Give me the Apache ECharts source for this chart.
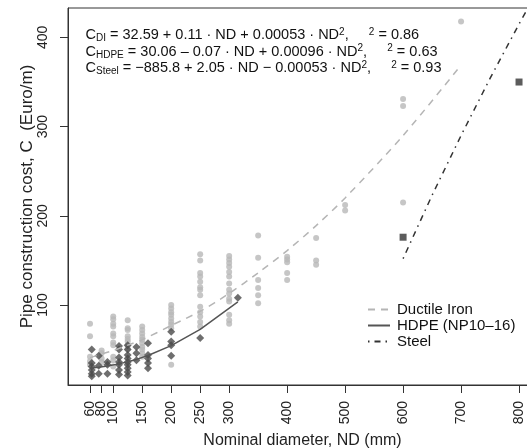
<!DOCTYPE html>
<html>
<head>
<meta charset="utf-8">
<title>Pipe construction cost</title>
<script src="https://cdn.jsdelivr.net/npm/echarts@6/dist/echarts.min.js"></script>
<style>
  html, body { margin:0; padding:0; background:#fff; }
  #main { width:527px; height:448px; }
</style>
</head>
<body>
<div id="main"></div>
<script>
// tick positions (nominal diameter) and y ticks
var xTicks = [60, 80, 100, 150, 200, 250, 300, 400, 500, 600, 700, 800];
// labels that sit too close to their neighbours go on a second, bare axis
var xTicksCrowded = [80];
var yTicks = [100, 200, 300, 400];

// Ductile iron observations [ND, cost]
var diPoints = [
    [60,79],[60,65],[60,42],[60,37],[60,33],
    [80,49],[80,46],[80,40],[80,36],
    [100,87],[100,84],[100,79],[100,76],[100,68],[100,65],[100,58],[100,55],[100,42],[100,38],[100,31],
    [125,83],[125,74],[125,72],[125,65],[125,62],[125,59],[125,55],[125,51],
    [150,76],[150,72],[150,68],[150,64],[150,61],[150,57],[150,53],[150,50],[150,46],[150,42],
    [200,100],[200,96],[200,92],[200,89],[200,85],[200,81],[200,78],[200,74],[200,33],
    [250,157],[250,150],[250,136],[250,132],[250,126],[250,120],[250,117],[250,111],[250,98],[250,92],[250,87],[250,81],[250,76],
    [300,155],[300,151],[300,147],[300,143],[300,137],[300,132],[300,124],[300,117],[300,113],[300,107],[300,104],[300,89],[300,83],[300,79],
    [350,178],[350,153],[350,128],[350,119],[350,111],[350,102],
    [400,154],[400,151],[400,148],[400,136],[400,128],
    [450,175],[450,150],[450,145],
    [500,212],[500,206],
    [600,331],[600,323],[600,215],
    [700,418]
];

// HDPE observations [ND, cost]
var hdpePoints = [
    [63,50],[63,35],[63,31],[63,27],[63,23],[63,20],
    [75,43],[75,32],[75,23],
    [90,36],[90,33],[90,23],
    [110,54],[110,50],[110,41],[110,36],[110,33],[110,27],[110,22],
    [125,55],[125,50],[125,44],[125,40],[125,36],[125,33],[125,29],[125,25],[125,21],
    [140,53],[140,46],[140,38],
    [160,57],[160,44],[160,40],[160,35],[160,29],
    [200,70],[200,59],[200,55],[200,43],
    [250,63],
    [315,108]
];

// Steel observations
var steelPoints = [[600,176],[800,350]];

// fitted curves
var diFitND   = [60, 80, 100, 125, 150, 200, 250, 300, 350, 400, 450, 500, 600, 700];
var diFitC    = [41, 45, 49, 55, 61, 77, 93, 113, 136, 161, 189, 220, 290, 369];
var hdpeFitND = [63, 75, 90, 110, 125, 140, 160, 200, 250, 315];
var hdpeFitC  = [29.4, 30.2, 31.5, 34, 36.3, 39, 43.4, 54.5, 72.6, 103.5];
var steelFitND = [600, 650, 700, 750, 800, 850];
var steelFitC  = [152, 223, 290, 354, 415, 473];

function pairs(xs, ys) {
    return xs.map(function (x, i) { return [x, ys[i]]; });
}

var FONT = '"Liberation Sans", Arial, Helvetica, sans-serif';
var chart = echarts.init(document.getElementById('main'), null, {renderer: 'canvas'});

var xLabelStyle = {rotate: 90, margin: 16, hideOverlap: false, showMinLabel: true,
                   fontFamily: FONT, fontSize: 14, color: '#222'};

var option = {
    animation: false,
    backgroundColor: '#fff',
    grid: {
        left: 68, top: 8, right: -10, bottom: 63,
        outerBoundsMode: 'none', containLabel: false,
        show: true, borderColor: '#333', borderWidth: 1, backgroundColor: 'transparent'
    },
    xAxis: [{
        type: 'value', min: 22, max: 831,
        name: 'Nominal diameter, ND (mm)', nameLocation: 'middle', nameGap: 48,
        nameMoveOverlap: false,
        nameTextStyle: {fontFamily: FONT, fontSize: 16, color: '#222'},
        axisLine: {show: true, lineStyle: {color: '#333'}},
        axisTick: {show: true, length: 8, customValues: xTicks, lineStyle: {color: '#333'}},
        axisLabel: Object.assign({customValues: xTicks.filter(function (v) {
            return xTicksCrowded.indexOf(v) < 0;
        })}, xLabelStyle),
        splitLine: {show: false}
    }, {
        type: 'value', min: 22, max: 831, position: 'bottom',
        axisLine: {show: false}, axisTick: {show: false}, splitLine: {show: false},
        axisLabel: Object.assign({customValues: xTicksCrowded}, xLabelStyle)
    }],
    yAxis: {
        type: 'value', min: 10.3, max: 433,
        name: 'Pipe construction cost, C  (Euro/m)', nameLocation: 'middle', nameGap: 32,
        nameMoveOverlap: false,
        nameTextStyle: {fontFamily: FONT, fontSize: 17, color: '#222'},
        axisLine: {show: true, lineStyle: {color: '#333'}},
        axisTick: {show: true, length: 8, customValues: yTicks, lineStyle: {color: '#333'}},
        axisLabel: {customValues: yTicks, rotate: 90, margin: 18, fontFamily: FONT, fontSize: 14, color: '#222'},
        splitLine: {show: false}
    },
    legend: {
        data: ['Ductile Iron', 'HDPE (NP10\u201316)', 'Steel'],
        orient: 'vertical', left: 367, top: 302, padding: 0,
        itemWidth: 22, itemHeight: 12, itemGap: 1,
        itemStyle: {opacity: 0},
        textStyle: {fontFamily: FONT, fontSize: 15, color: '#111', padding: [0, 0, 0, 2]}
    },
    graphic: [{
        type: 'text', left: 'center', top: 27,
        style: {
            x: 0, y: 0,
            text: 'C{s|DI} = 32.59 + 0.11 \u00b7 ND + 0.00053 \u00b7 ND{p|2},     {p|2} = 0.86\n' +
                  'C{s|HDPE} = 30.06 \u2013 0.07 \u00b7 ND + 0.00096 \u00b7 ND{p|2},     {p|2} = 0.63\n' +
                  'C{s|Steel} = \u2212885.8 + 2.05 \u00b7 ND \u2212 0.00053 \u00b7 ND{p|2},     {p|2} = 0.93',
            font: '14.5px ' + FONT, fill: '#111', align: 'center', lineHeight: 16.5,
            rich: {
                s: {fontSize: 10, fontFamily: FONT, verticalAlign: 'bottom', padding: [6, 0, 0, 0], lineHeight: 16.5},
                p: {fontSize: 10, fontFamily: FONT, verticalAlign: 'top', padding: [0, 0, 6, 0], lineHeight: 16.5}
            }
        }
    }],
    series: [
        {
            type: 'scatter', name: 'diObs', data: diPoints, symbol: 'circle', symbolSize: 6,
            itemStyle: {color: '#b8b8b8'}, z: 2
        },
        {
            type: 'scatter', name: 'hdpeObs', data: hdpePoints, symbol: 'diamond', symbolSize: 8,
            itemStyle: {color: '#4a4a4a'}, z: 3
        },
        {
            type: 'scatter', name: 'steelObs', data: steelPoints, symbol: 'rect', symbolSize: 7,
            itemStyle: {color: '#333'}, z: 3
        },
        {
            type: 'line', name: 'Ductile Iron', data: pairs(diFitND, diFitC), smooth: 0.3,
            symbol: 'none', itemStyle: {color: '#b5b5b5'},
            lineStyle: {color: '#b5b5b5', width: 1.5, type: [7, 6]}, z: 4
        },
        {
            type: 'line', name: 'HDPE (NP10\u201316)', data: pairs(hdpeFitND, hdpeFitC),
            symbol: 'none', itemStyle: {color: '#555'},
            lineStyle: {color: '#555', width: 1.5, type: 'solid'}, z: 4
        },
        {
            type: 'line', name: 'Steel', data: pairs(steelFitND, steelFitC), clip: true,
            symbol: 'none', itemStyle: {color: '#333'},
            lineStyle: {color: '#333', width: 1.5, type: [1.5, 5, 6, 5]}, z: 4
        }
    ]
};

chart.setOption(option);
window.onresize = function () { chart.resize(); };
</script>
</body>
</html>
